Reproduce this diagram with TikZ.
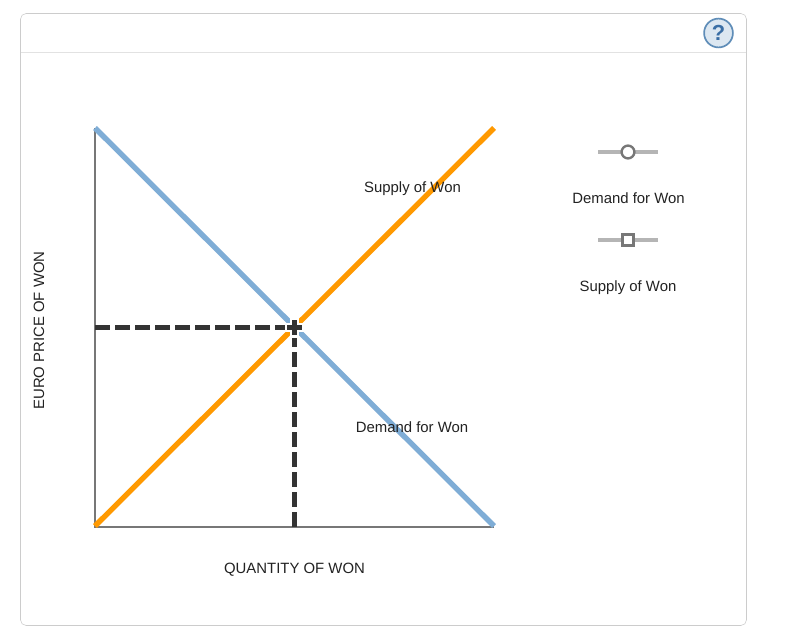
\documentclass[tikz,border=0pt]{standalone}
\usepackage{fontspec}
\setmainfont{Liberation Sans}
\usepackage{tikz}
\definecolor{demandblue}{HTML}{7FADD6}
\definecolor{supplyorange}{HTML}{FF9900}
\definecolor{framegray}{HTML}{CCCCCC}
\definecolor{rulegray}{HTML}{E2E2E2}
\definecolor{axisgray}{HTML}{777777}
\definecolor{dashdark}{HTML}{333333}
\definecolor{trackgray}{HTML}{B5B5B5}
\definecolor{knobgray}{HTML}{777777}
\definecolor{helpblue}{HTML}{5F8DB8}
\definecolor{helpfill}{HTML}{DCE7F1}
\definecolor{helptext}{HTML}{3A6EA5}
\definecolor{labeltext}{HTML}{222222}
\tikzset{
  lbl/.style={font=\fontsize{10.6}{12}\selectfont, text=labeltext, inner sep=0pt},
  curve/.style={line width=3.8pt},
  guide/.style={line width=3.5pt, dashdark, dash pattern=on 10.67pt off 3.56pt},
  track/.style={line width=3.4pt, trackgray},
  knob/.style={draw=knobgray, line width=1.7pt, fill=white, inner sep=0pt},
}
\begin{document}
\begin{tikzpicture}[x=0.025cm, y=-0.025cm]
\useasboundingbox (0,0) rectangle (788,637);
\fill[white] (0,0) rectangle (788,637);
% panel
\draw[framegray, rounded corners=4pt] (20.5,13.5) rectangle (746.5,625.5);
\draw[rulegray] (21,52.5)--(746,52.5);
\node[circle, draw=helpblue, fill=helpfill, line width=1.2pt, minimum size=0.72cm, inner sep=0pt,
  text=helptext, font=\fontsize{15.5}{15.5}\selectfont\bfseries] (help) at (718.5,33) {?};
% axes
\coordinate (top) at (95,128);
\coordinate (origin) at (95,527);
\coordinate (right) at (494,527);
\draw[axisgray, line width=1pt] (top)--(origin)--(right);
\node[lbl, rotate=90] (ylabel) at (39,330.5) {EURO PRICE OF WON};
\node[lbl] (xlabel) at (294.5,569.5) {QUANTITY OF WON};
% curves
\coordinate (eq) at (294.5,327.5);
\coordinate (dstart) at (95,128);
\coordinate (dend) at (494,526);
\coordinate (sstart) at (95,526);
\coordinate (send) at (494,128);
\draw[curve, demandblue] (dstart)--(dend);
\draw[curve, supplyorange] (sstart)--(send);
% dashed guides
\coordinate (ymark) at (95,327.5);
\coordinate (xmark) at (294.5,527);
\draw[guide] (ymark)--(eq);
\draw[guide] (xmark)--(eq);
\draw[white, line width=6.5pt] (284.5,327.5)--(304.5,327.5) (294.5,317.5)--(294.5,337.5);
\draw[dashdark, line width=3.4pt] (287,327.5)--(302,327.5) (294.5,320)--(294.5,335);
\node[lbl] (supply) at (412.5,189) {Supply of Won};
\node[lbl] (demand) at (412,427.5) {Demand for Won};
% legend
\coordinate (dl) at (598,152);
\coordinate (dr) at (658,152);
\coordinate (sl) at (598,240);
\coordinate (sr) at (658,240);
\draw[track] (dl)--(dr);
\node[knob, circle, minimum size=0.32cm] (dknob) at (628,152) {};
\node[lbl] (dtext) at (628.5,198.5) {Demand for Won};
\draw[track] (sl)--(sr);
\node[knob, rectangle, minimum size=0.27cm] (sknob) at (628,240) {};
\node[lbl] (stext) at (628,287.5) {Supply of Won};
\end{tikzpicture}
\end{document}
